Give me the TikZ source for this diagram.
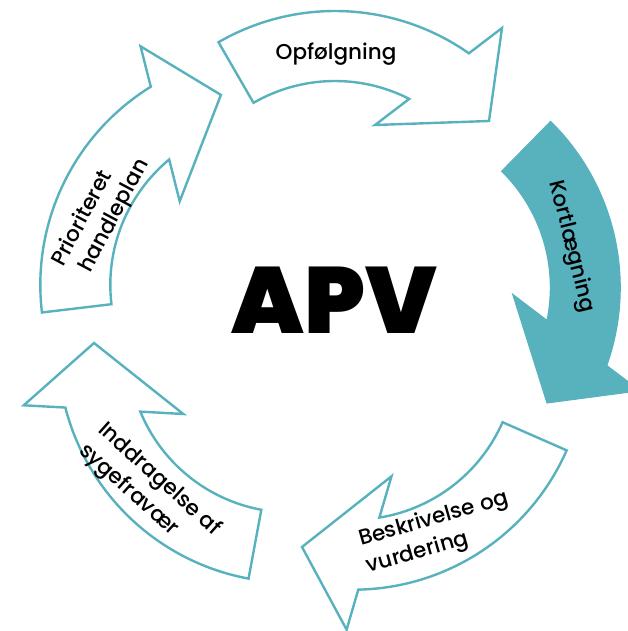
\documentclass[tikz,border=0pt]{standalone}
\usepackage{fontspec}
\setmainfont{Poppins Medium}
\newfontfamily\apvfont{Poppins Black}
\definecolor{cyclecol}{RGB}{88,178,190}

\tikzset{
  x=1pt, y=1pt,
  % one curved block arrow of the cycle, drawn around its own arc centre
  cyclearrow/.pic={
    \path[pic actions]
      (120:233) arc[start angle=120, end angle=54.93, radius=233]
      -- (167,216) -- (154,123) -- (40,119)
      -- (62.9:163) arc[start angle=62.9, end angle=120, radius=163]
      -- cycle;
  },
  openarrow/.style={draw=cyclecol, fill=white, line width=2.4pt, miter limit=20},
  fullarrow/.style={draw=cyclecol, fill=cyclecol, line width=1pt},
  steplabel/.style={inner sep=0pt, text=black, font=\fontsize{21.5}{26}\selectfont},
}

\begin{document}
\begin{tikzpicture}
  \useasboundingbox (0,0) rectangle (628,-631);
  \fill[white] (0,0) rectangle (628,-631);
  \clip (0,0) rectangle (628,-631);

  % the five arrows of the cycle
  \pic[openarrow]                at (335,-244)     {cyclearrow};
  \pic[fullarrow, rotate=-74.5]  at (387.3,-287.5) {cyclearrow};
  \pic[openarrow, rotate=-143.7] at (353.3,-356.7) {cyclearrow};
  \pic[openarrow, rotate=139.5]  at (291,-349.5)   {cyclearrow};
  \pic[openarrow, rotate=66.8]   at (273.3,-284.9) {cyclearrow};

  % labels
  \node[steplabel, anchor=base] (opf) at (336,-60) {Opfølgning};
  \node[steplabel, anchor=base, rotate=-76] (kort) at (566,-248) {Kortlægning};
  \node[steplabel, anchor=base west, rotate=16] (besk1) at (361,-546) {Beskrivelse og};
  \node[steplabel, anchor=base west, rotate=16] (besk2) at (368.5,-573) {vurdering};
  \node[steplabel, anchor=base west, rotate=-42] (indd1) at (97,-431) {Inddragelse af};
  \node[steplabel, anchor=base west, rotate=-42] (indd2) at (78,-452) {sygefravær};
  \node[steplabel, anchor=base west, rotate=62] (prio1) at (63,-268) {Prioriteret};
  \node[steplabel, anchor=base west, rotate=62] (prio2) at (90,-274) {handleplan};

  \node[inner sep=0pt, anchor=base, font=\apvfont\fontsize{94}{94}\selectfont] (apv) at (334.5,-333) {APV};
\end{tikzpicture}
\end{document}
